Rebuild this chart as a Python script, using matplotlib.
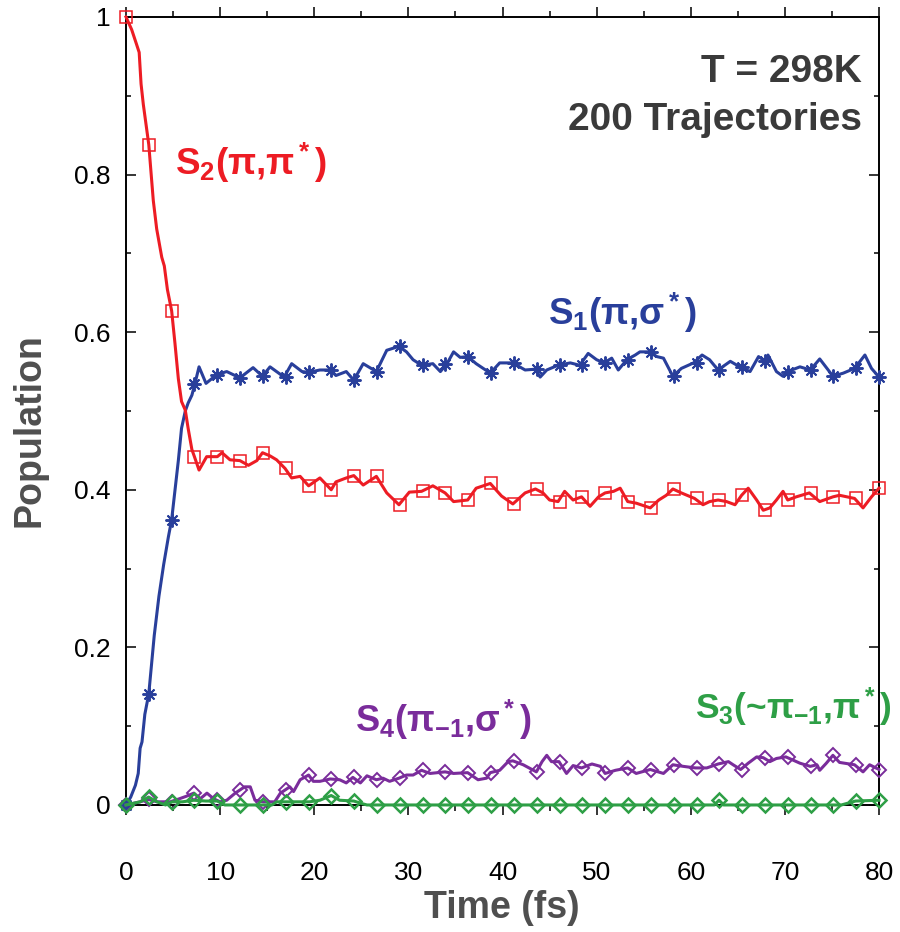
import matplotlib
matplotlib.use('Agg')
import matplotlib.pyplot as plt
from matplotlib.ticker import MultipleLocator, FuncFormatter

# Colours
RED = "#ED1C24"
BLUE = "#293F9B"
PURPLE = "#7A2C9B"
GREEN = "#2E9F46"
DARK_GRAY = "#3A3A3A"
LABEL_GRAY = "#4F4F4F"

plt.rcParams['font.family'] = ['Liberation Sans', 'DejaVu Sans']
plt.rcParams['mathtext.fontset'] = 'custom'
plt.rcParams['mathtext.rm'] = 'Liberation Sans:bold'
plt.rcParams['mathtext.it'] = 'Liberation Sans:bold'
plt.rcParams['mathtext.bf'] = 'Liberation Sans:bold'
plt.rcParams['mathtext.default'] = 'rm'

# ---- population traces (time in fs) ----
t_s2 = [0, 0.6, 1.1, 1.4, 1.6, 1.84, 2.42, 2.9, 3.26, 3.8, 4.07, 4.4, 4.85, 5.2, 5.56,
        5.9, 6.3, 6.6, 7.0, 7.27, 7.76, 8.57, 9.7, 10.2, 11.05, 12.1, 13.0, 13.9, 14.5,
        15.3, 16.0, 16.9, 17.6, 18.5, 19.4, 20.6, 21.8, 22.3, 23.4, 24.2, 25.2, 26.6,
        27.7, 29.0, 30.1, 31.4, 32.6, 33.9, 34.8, 36.3, 37.2, 38.7, 39.9, 41.1, 42.4,
        43.5, 44.3, 45.0, 45.9, 46.6, 47.5, 48.4, 49.3, 50.2, 50.9, 51.8, 52.5, 53.3,
        54.2, 55.7, 56.6, 57.4, 58.1, 59.0, 60.4, 61.3, 62.0, 62.9, 63.8, 64.7, 65.4,
        66.1, 67.0, 67.7, 68.4, 69.1, 69.8, 70.3, 71.2, 72.6, 73.7, 75.1, 75.8, 77.4,
        78.3, 79.2, 80.0]
s2 = [1.0, 0.984, 0.966, 0.955, 0.915, 0.889, 0.838, 0.767, 0.731, 0.695, 0.684, 0.654,
      0.627, 0.586, 0.541, 0.512, 0.501, 0.478, 0.451, 0.442, 0.425, 0.442, 0.442, 0.447,
      0.438, 0.437, 0.431, 0.437, 0.447, 0.443, 0.438, 0.427, 0.415, 0.417, 0.405, 0.415,
      0.400, 0.410, 0.415, 0.418, 0.406, 0.417, 0.396, 0.381, 0.397, 0.398, 0.405, 0.396,
      0.385, 0.387, 0.402, 0.408, 0.392, 0.382, 0.396, 0.401, 0.396, 0.387, 0.385, 0.398,
      0.387, 0.391, 0.379, 0.391, 0.396, 0.398, 0.402, 0.385, 0.383, 0.377, 0.387, 0.393,
      0.401, 0.396, 0.389, 0.381, 0.385, 0.387, 0.385, 0.381, 0.393, 0.402, 0.387, 0.374,
      0.377, 0.387, 0.398, 0.387, 0.391, 0.396, 0.385, 0.391, 0.393, 0.389, 0.377, 0.391,
      0.402]

t_s1 = [0, 0.5, 1.0, 1.3, 1.5, 1.7, 2.0, 2.42, 3.0, 3.5, 4.0, 4.5, 4.85, 5.56, 5.9, 6.3,
        6.6, 7.0, 7.33, 7.76, 8.5, 9.63, 10.7, 12.1, 13.5, 14.5, 15.3, 16.8, 17.6, 18.7,
        19.4, 20.6, 21.7, 22.3, 23.4, 24.2, 25.2, 26.6, 27.7, 29.0, 29.8, 30.5, 31.4,
        32.6, 33.4, 34.1, 34.8, 35.5, 36.3, 37.2, 38.7, 39.7, 41.1, 42.4, 43.5, 44.0,
        44.7, 45.9, 47.2, 48.2, 49.1, 50.0, 50.8, 51.6, 52.3, 53.2, 54.1, 54.6, 55.6,
        56.4, 57.1, 58.1, 59.0, 60.3, 61.2, 62.0, 62.9, 64.2, 65.2, 66.3, 67.2, 67.9,
        68.2, 69.1, 69.8, 70.3, 71.6, 72.7, 73.7, 74.6, 75.1, 76.2, 77.4, 78.5, 79.2,
        80.0]
s1 = [0.0, 0.010, 0.025, 0.040, 0.072, 0.080, 0.115, 0.141, 0.215, 0.265, 0.305, 0.340,
      0.362, 0.437, 0.478, 0.500, 0.510, 0.520, 0.535, 0.556, 0.535, 0.546, 0.550, 0.542,
      0.555, 0.544, 0.556, 0.543, 0.560, 0.550, 0.549, 0.552, 0.552, 0.545, 0.550, 0.539,
      0.560, 0.550, 0.577, 0.582, 0.575, 0.565, 0.558, 0.560, 0.550, 0.560, 0.575, 0.568,
      0.569, 0.560, 0.548, 0.561, 0.561, 0.552, 0.553, 0.543, 0.552, 0.558, 0.561, 0.558,
      0.573, 0.565, 0.561, 0.567, 0.552, 0.565, 0.571, 0.575, 0.575, 0.569, 0.567, 0.544,
      0.554, 0.561, 0.571, 0.565, 0.552, 0.563, 0.556, 0.550, 0.569, 0.563, 0.571, 0.550,
      0.544, 0.550, 0.556, 0.552, 0.566, 0.552, 0.544, 0.548, 0.554, 0.571, 0.554, 0.543]

t_s4 = [0, 1.5, 2.4, 3.3, 4.7, 5.7, 6.4, 7.2, 7.9, 8.6, 9.3, 10.0, 10.7, 11.6, 12.1, 12.6,
        13.2, 13.7, 14.6, 15.8, 16.4, 16.9, 17.4, 17.8, 18.5, 19.4, 19.9, 20.6, 21.7,
        22.7, 23.4, 24.1, 24.9, 25.6, 26.6, 27.3, 28.0, 29.0, 29.8, 30.5, 31.4, 32.3,
        33.9, 34.8, 36.3, 37.4, 38.3, 38.7, 39.7, 40.6, 41.1, 42.2, 43.6, 44.2, 44.7,
        45.2, 46.0, 46.8, 47.5, 48.4, 49.5, 50.4, 50.9, 52.0, 53.3, 54.2, 55.7, 57.1,
        58.1, 59.2, 60.5, 61.7, 62.9, 64.0, 64.5, 65.3, 66.1, 67.0, 67.7, 68.4, 69.1,
        70.1, 71.6, 72.7, 73.4, 73.7, 74.4, 75.1, 75.8, 77.4, 78.3, 79.0, 80.0]
s4 = [0.0, 0.004, 0.007, 0.004, 0.004, 0.008, 0.011, 0.015, 0.008, 0.015, 0.008, 0.004,
      0.006, 0.015, 0.019, 0.023, 0.023, 0.006, 0.004, 0.004, 0.015, 0.019, 0.023, 0.017,
      0.032, 0.038, 0.030, 0.030, 0.033, 0.032, 0.028, 0.035, 0.028, 0.037, 0.032, 0.034,
      0.030, 0.034, 0.038, 0.038, 0.044, 0.040, 0.042, 0.040, 0.041, 0.032, 0.034, 0.041,
      0.044, 0.055, 0.056, 0.051, 0.042, 0.055, 0.063, 0.055, 0.055, 0.040, 0.050, 0.047,
      0.052, 0.049, 0.040, 0.044, 0.047, 0.040, 0.045, 0.040, 0.051, 0.049, 0.047, 0.047,
      0.052, 0.055, 0.051, 0.045, 0.053, 0.061, 0.060, 0.055, 0.059, 0.061, 0.053, 0.049,
      0.051, 0.044, 0.053, 0.063, 0.054, 0.051, 0.042, 0.051, 0.045]

t_s3 = [0, 1.5, 2.4, 3.3, 4.2, 4.9, 6.0, 7.2, 8.5, 9.7, 10.5, 15.5, 16.0, 19.5, 20.6,
        21.8, 22.7, 24.2, 25.0, 25.6, 62.5, 63.0, 63.5, 76.0, 77.5, 80.0]
s3 = [0.0, 0.004, 0.010, 0.004, 0.0, 0.004, 0.004, 0.006, 0.005, 0.005, 0.0, 0.0, 0.004,
      0.004, 0.006, 0.012, 0.006, 0.005, 0.002, 0.0, 0.0, 0.006, 0.0, 0.0, 0.005, 0.006]

# ---- marker samples ----
t_mark = [0.00, 2.42, 4.85, 7.27, 9.70, 12.12, 14.55, 16.97, 19.39, 21.82, 24.24, 26.67,
          29.09, 31.52, 33.94, 36.36, 38.79, 41.21, 43.64, 46.06, 48.48, 50.91, 53.33,
          55.76, 58.18, 60.61, 63.03, 65.45, 67.88, 70.30, 72.73, 75.15, 77.58, 80.00]
s2_mark = [1.0, 0.838, 0.627, 0.442, 0.442, 0.437, 0.447, 0.427, 0.405, 0.400, 0.418,
           0.417, 0.381, 0.398, 0.396, 0.387, 0.408, 0.382, 0.401, 0.385, 0.391, 0.396,
           0.385, 0.377, 0.401, 0.389, 0.387, 0.393, 0.374, 0.387, 0.396, 0.391, 0.389,
           0.402]
s1_mark = [0.0, 0.141, 0.362, 0.534, 0.546, 0.542, 0.544, 0.543, 0.549, 0.552, 0.539,
           0.550, 0.582, 0.558, 0.560, 0.569, 0.548, 0.561, 0.553, 0.558, 0.558, 0.561,
           0.565, 0.575, 0.544, 0.561, 0.552, 0.556, 0.563, 0.550, 0.552, 0.544, 0.554,
           0.543]
s4_mark = [0.0, 0.007, 0.004, 0.015, 0.006, 0.019, 0.004, 0.019, 0.038, 0.033, 0.035,
           0.032, 0.034, 0.044, 0.042, 0.041, 0.041, 0.056, 0.042, 0.055, 0.047, 0.040,
           0.047, 0.045, 0.051, 0.047, 0.052, 0.045, 0.060, 0.061, 0.049, 0.063, 0.051,
           0.045]
s3_mark = [0.0, 0.010, 0.004, 0.006, 0.005, 0.0, 0.0, 0.004, 0.004, 0.012, 0.005, 0.0,
           0.0, 0.0, 0.0, 0.0, 0.0, 0.0, 0.0, 0.0, 0.0, 0.0, 0.0, 0.0, 0.0, 0.0, 0.006,
           0.0, 0.0, 0.0, 0.0, 0.0, 0.005, 0.006]

fig = plt.figure(figsize=(9, 9.32), dpi=100)
ax = fig.add_axes([0.14, 0.1363, 0.8367, 0.8455])

LW = 2.2
ASTERISK = (8, 2, 0)

ax.plot(t_s1, s1, color=BLUE, lw=LW, clip_on=False, zorder=3)
ax.plot(t_mark, s1_mark, ls='none', marker=ASTERISK, ms=10, mew=1.4,
        color=BLUE, clip_on=False, zorder=3)

ax.plot(t_s2, s2, color=RED, lw=LW, clip_on=False, zorder=4)
ax.plot(t_mark, s2_mark, ls='none', marker='s', ms=8.5, mew=1.1, mfc='none',
        color=RED, clip_on=False, zorder=4)

ax.plot(t_s4, s4, color=PURPLE, lw=LW, clip_on=False, zorder=5)
ax.plot(t_mark, s4_mark, ls='none', marker='D', ms=7, mew=1.4, mfc='none',
        color=PURPLE, clip_on=False, zorder=5)

ax.plot(t_s3, s3, color=GREEN, lw=LW, clip_on=False, zorder=6)
ax.plot(t_mark, s3_mark, ls='none', marker='D', ms=7, mew=1.8, mfc='none',
        color=GREEN, clip_on=False, zorder=6)

ax.set_xlim(0, 80)
ax.set_ylim(0, 1)

ax.xaxis.set_major_locator(MultipleLocator(10))
ax.xaxis.set_minor_locator(MultipleLocator(5))
ax.yaxis.set_major_locator(MultipleLocator(0.2))
ax.yaxis.set_minor_locator(MultipleLocator(0.1))
ax.yaxis.set_major_formatter(FuncFormatter(lambda v, p: '%g' % round(v, 1)))

ax.tick_params(axis='x', which='both', direction='out', top=True, labelsize=19,
               width=1.1, pad=33)
ax.tick_params(axis='x', which='major', length=7)
ax.tick_params(axis='x', which='minor', length=4)
ax.tick_params(axis='y', which='both', direction='in', right=True, labelsize=19,
               width=1.1, pad=11)
ax.tick_params(axis='y', which='major', length=7)
ax.tick_params(axis='y', which='minor', length=3.5)
for sp in ax.spines.values():
    sp.set_linewidth(1.4)

# state labels: plain bold text with math only for sub/superscripts
label_kw = dict(fontweight='bold', clip_on=False)
ax.text(5.2, 0.80, 'S$_2$(π,π$^*$)', color=RED, fontsize=26.5, **label_kw)
ax.text(44.8, 0.609, 'S$_1$(π,σ$^*$)', color=BLUE, fontsize=26.5, **label_kw)
ax.text(24.3, 0.093, 'S$_4$(π$_{-1}$,σ$^*$)', color=PURPLE, fontsize=26, **label_kw)
ax.text(60.5, 0.109, 'S$_3$(~π$_{-1}$,π$^*$)', color=GREEN, fontsize=25.5, **label_kw)

ax.text(78.2, 0.930, 'T = 298K', color=DARK_GRAY, fontsize=28, fontweight='bold',
        ha='right', va='center')
ax.text(78.2, 0.869, '200 Trajectories', color=DARK_GRAY, fontsize=28,
        fontweight='bold', ha='right', va='center')

fig.text(0.033, 1 - 430 / 932, 'Population', color=LABEL_GRAY, fontsize=27,
         fontweight='bold', rotation=90, ha='center', va='center')
fig.text(502 / 900, 1 - 908 / 932, 'Time (fs)', color=LABEL_GRAY, fontsize=27,
         fontweight='bold', ha='center', va='center')

fig.savefig('out.png', dpi=100, facecolor='white')
